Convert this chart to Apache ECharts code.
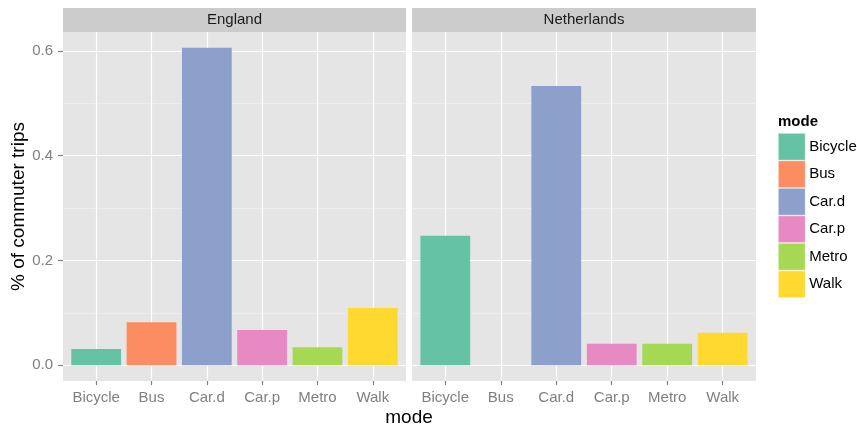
<!DOCTYPE html>
<html>
<head>
<meta charset="utf-8">
<script src="https://cdn.jsdelivr.net/npm/echarts@6/dist/echarts.min.js"></script>
<style>html,body{margin:0;padding:0;background:#fff}#c{width:857px;height:429px}</style>
</head>
<body>
<div id="c"></div>
<script>
var categories = ['Bicycle', 'Bus', 'Car.d', 'Car.p', 'Metro', 'Walk'];
var panels = ['England', 'Netherlands'];
var englandValues = [0.031, 0.082, 0.606, 0.067, 0.034, 0.109];
var netherlandsValues = [0.247, 0, 0.533, 0.041, 0.041, 0.062];
var colors = ['#66C2A5', '#FC8D62', '#8DA0CB', '#E78AC3', '#A6D854', '#FFD92F'];
var yTicks = [0, 0.2, 0.4, 0.6];
var yMinorTicks = [0.1, 0.3, 0.5];

var FONT = 'Liberation Sans, Arial, Helvetica, sans-serif';
var panelValues = [englandValues, netherlandsValues];
var yMaxData = Math.max.apply(null, englandValues.concat(netherlandsValues));
var yPad = yMaxData * 0.05;
var yMin = -yPad, yMax = yMaxData + yPad;
var xTicks = categories.map(function (c, i) { return i + 1; });

var gridsDef = [{left: 63, width: 343}, {left: 412, width: 344}];
var grids = [], xAxes = [], yAxes = [], series = [], graphics = [];

gridsDef.forEach(function (g, p) {
  grids.push({left: g.left, width: g.width, top: 32, height: 349, show: true,
    backgroundColor: '#E5E5E5', borderWidth: 0, containLabel: false});
  xAxes.push({
    type: 'value', gridIndex: p, min: 0.4, max: categories.length + 0.6,
    axisLine: {show: true, onZero: false, lineStyle: {color: '#E5E5E5', width: 0.01}},
    axisTick: {show: true, inside: false, length: 4, customValues: xTicks, lineStyle: {color: '#7F7F7F', width: 1.2}},
    axisLabel: {show: true, customValues: xTicks, margin: 9, color: '#7F7F7F', fontSize: 15, fontFamily: FONT,
      formatter: function (v) { return categories[Math.round(v) - 1] || ''; }},
    splitLine: {show: true, lineStyle: {color: '#FFFFFF', width: 1.2}}
  });
  yAxes.push({
    type: 'value', gridIndex: p, min: yMin, max: yMax,
    axisLine: {show: true, onZero: false, lineStyle: {color: '#E5E5E5', width: 0.01}},
    axisTick: {show: p === 0, inside: false, length: 5, customValues: yTicks, lineStyle: {color: '#7F7F7F', width: 1.2}},
    axisLabel: {show: p === 0, customValues: yTicks, margin: 10, color: '#7F7F7F', fontSize: 15, fontFamily: FONT,
      formatter: function (v) { return v.toFixed(1); }},
    splitLine: {show: true, lineStyle: {color: '#FFFFFF', width: 1.2}},
    name: p === 0 ? '% of commuter trips' : '',
    nameLocation: 'middle', nameGap: 33, nameRotate: 90,
    nameTextStyle: {color: '#000', fontSize: 19, fontFamily: FONT}
  });
  yAxes.push({
    type: 'value', gridIndex: p, min: yMin, max: yMax,
    axisLine: {show: false, onZero: false},
    axisTick: {show: false, customValues: yMinorTicks},
    axisLabel: {show: false, customValues: yMinorTicks},
    splitLine: {show: true, lineStyle: {color: '#F2F2F2', width: 0.6}}
  });
  graphics.push({type: 'rect', left: g.left, top: 8, shape: {width: g.width, height: 24},
    style: {fill: '#CCCCCC'}, silent: true});
  graphics.push({type: 'text', x: g.left + g.width / 2, y: 20,
    style: {text: panels[p], fill: '#1A1A1A', font: '15px ' + FONT, textAlign: 'center', textVerticalAlign: 'middle'}});
});

categories.forEach(function (cat, i) {
  panelValues.forEach(function (vals, p) {
    series.push({
      type: 'bar', name: cat, xAxisIndex: p, yAxisIndex: p * 2,
      barWidth: 49.8, barGap: '-100%', stack: 'p' + p,
      itemStyle: {color: colors[i]},
      data: [[i + 1, vals[i]]],
      animation: false
    });
  });
});

graphics.push({type: 'text', x: 409, y: 418,
  style: {text: 'mode', fill: '#000', font: '19px ' + FONT, textAlign: 'center', textVerticalAlign: 'middle'}});
graphics.push({type: 'text', x: 778, y: 122,
  style: {text: 'mode', fill: '#000', font: 'bold 15px ' + FONT, textAlign: 'left', textVerticalAlign: 'middle'}});

var chart = echarts.init(document.getElementById('c'), null, {renderer: 'canvas'});
chart.setOption({
  animation: false,
  grid: grids, xAxis: xAxes, yAxis: yAxes, series: series,
  legend: {
    orient: 'vertical', left: 778, top: 133, itemWidth: 27, itemHeight: 27, itemGap: 0,
    padding: 0, icon: 'rect', data: categories, selectedMode: false,
    textStyle: {color: '#000', fontSize: 15, fontFamily: FONT, padding: [0, 0, 0, -1]},
    itemStyle: {borderColor: '#FFFFFF', borderWidth: 0.5}
  },
  graphic: graphics
});
</script>
</body>
</html>
